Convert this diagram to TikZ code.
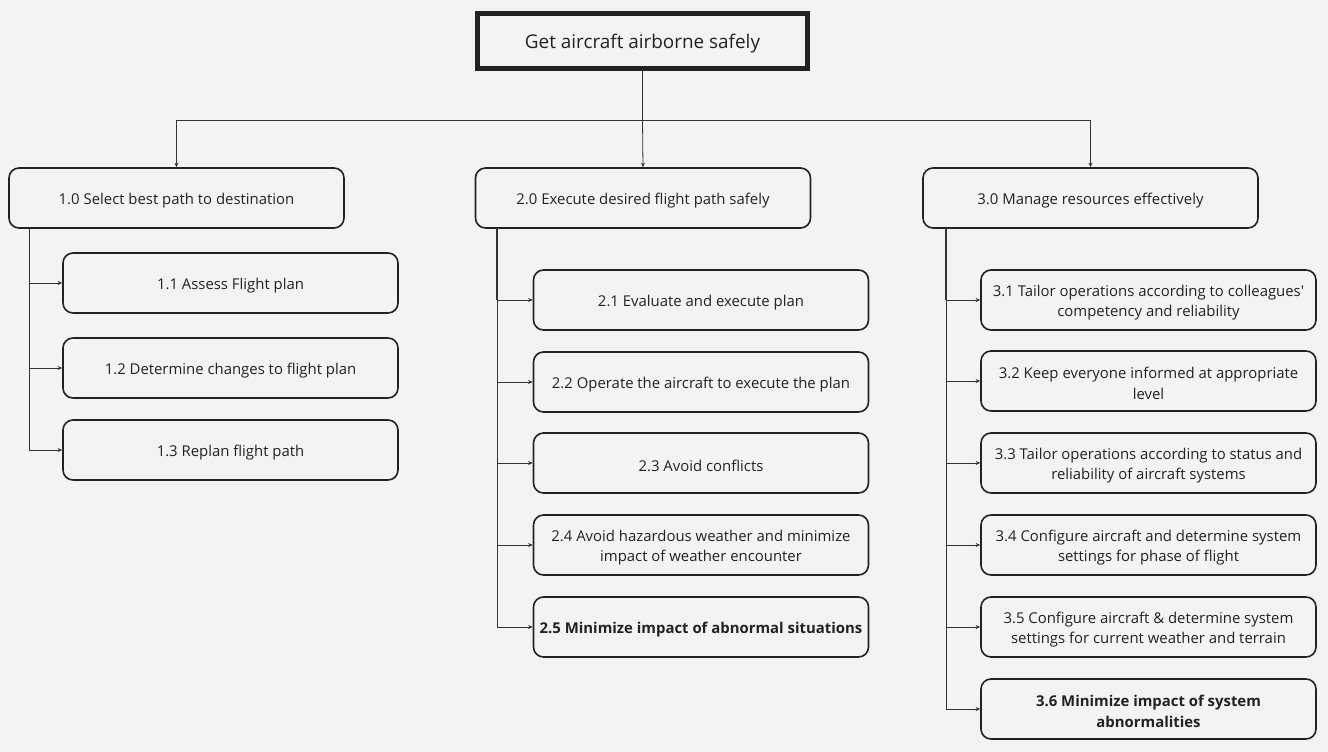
\documentclass[tikz,border=0pt]{standalone}
\usepackage{fontspec}
\setmainfont{Open Sans}
\usetikzlibrary{arrows.meta}
\definecolor{bg}{HTML}{F3F3F3}
\definecolor{ln}{HTML}{333333}
\definecolor{bd}{HTML}{222222}
\newcommand\bt[1]{\raisebox{-2.5pt}[\height][\depth]{\parbox{330pt}{\centering\fontsize{14.9}{20.5}\selectfont #1}}}
\begin{document}
\begin{tikzpicture}[x=1pt,y=-1pt,
  box/.style={draw=bd,line width=1.6pt,rounded corners=10pt,fill=bg,inner sep=0pt,
    minimum width=335pt,minimum height=60pt,text=bd},
  conn/.style={draw=ln,line width=0.8pt,-{Stealth[length=4.5pt,width=4pt]}},
  plain/.style={draw=ln,line width=0.8pt}]
\fill[bg] (0,0) rectangle (1328,752);
\useasboundingbox (0,0) rectangle (1328,752);
\node[draw=bd,line width=4.5pt,fill=bg,minimum width=330pt,minimum height=55pt,inner sep=0pt,font=\fontsize{18.9}{23}\selectfont,text=bd] (top) at (642.5,41) {\raisebox{-2.5pt}[\height][\depth]{Get aircraft airborne safely}};
\node[box] (n1) at (176.5,198) {\bt{1.0 Select best path to destination}};
\node[box] (n2) at (643,198) {\bt{2.0 Execute desired flight path safely}};
\node[box] (n3) at (1090.5,198) {\bt{3.0 Manage resources effectively}};
\coordinate (hb) at (642.5,120);
\draw[plain,line width=1.3pt] (top.south) -- (hb);
\draw[plain] (n1.north |- hb) -- (n3.north |- hb);
\draw[conn] (n1.north |- hb) -- (n1.north);
\draw[conn] (hb) -- (n2.north);
\draw[conn] (n3.north |- hb) -- (n3.north);
% column 1
\node[box] (n11) at (230.5,283) {\bt{1.1 Assess Flight plan}};
\node[box] (n12) at (230.5,368) {\bt{1.2 Determine changes to flight plan}};
\node[box] (n13) at (230.5,450) {\bt{1.3 Replan flight path}};
\coordinate (c1) at (29,228);
\draw[plain] (c1) -- (c1 |- n13.west);
\foreach \n in {n11,n12,n13} \draw[conn] (c1 |- \n.west) -- (\n.west);
% column 2
\node[box] (n21) at (701,300) {\bt{2.1 Evaluate and execute plan}};
\node[box] (n22) at (701,382) {\bt{2.2 Operate the aircraft to execute the plan}};
\node[box] (n23) at (701,463) {\bt{2.3 Avoid conflicts}};
\node[box] (n24) at (701,545) {\bt{2.4 Avoid hazardous weather and minimize\\impact of weather encounter}};
\node[box] (n25) at (701,627) {\bt{\bfseries 2.5 Minimize impact of abnormal situations}};
\coordinate (c2) at (497,228);
\draw[plain] (c2) -- (c2 |- n25.west);
\draw[plain,line width=1.3pt] (c2) -- (c2 |- n21.west);
\foreach \n in {n21,n22,n23,n24,n25} \draw[conn] (c2 |- \n.west) -- (\n.west);
% column 3
\node[box] (n31) at (1148.5,300) {\bt{3.1 Tailor operations according to colleagues\textquotesingle\\competency and reliability}};
\node[box] (n32) at (1148.5,381) {\bt{3.2 Keep everyone informed at appropriate\\level}};
\node[box] (n33) at (1148.5,463) {\bt{3.3 Tailor operations according to status and\\reliability of aircraft systems}};
\node[box] (n34) at (1148.5,545) {\bt{3.4 Configure aircraft and determine system\\settings for phase of flight}};
\node[box] (n35) at (1148.5,627) {\bt{3.5 Configure aircraft \& determine system\\settings for current weather and terrain}};
\node[box] (n36) at (1148.5,709) {\bt{\bfseries 3.6 Minimize impact of system\\abnormalities}};
\coordinate (c3) at (946,228);
\draw[plain] (c3) -- (c3 |- n36.west);
\draw[plain,line width=1.3pt] (c3) -- (c3 |- n31.west);
\foreach \n in {n31,n32,n33,n34,n35,n36} \draw[conn] (c3 |- \n.west) -- (\n.west);
\end{tikzpicture}
\end{document}
